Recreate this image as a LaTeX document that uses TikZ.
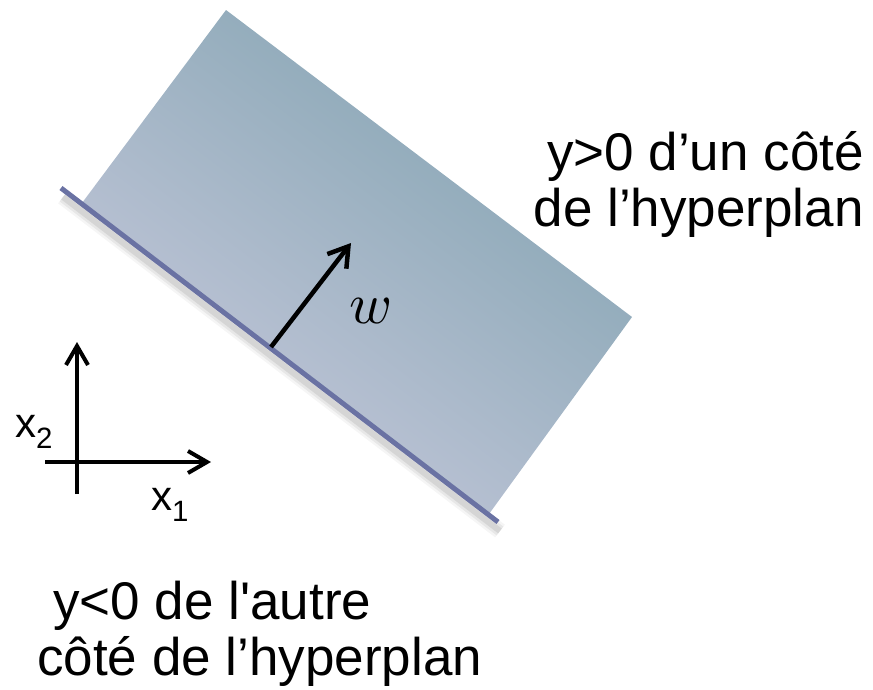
\documentclass[tikz,border=0pt]{standalone}
\usepackage{fontspec}
\newfontfamily\labelfont{Liberation Sans}
\usetikzlibrary{arrows.meta}
\definecolor{planLight}{HTML}{C7C9DC}
\definecolor{planDark}{HTML}{82A3B1}
\definecolor{hypLine}{HTML}{6A72A3}

\begin{document}
\begin{tikzpicture}[
    x=1pt, y=-1pt,
    bigtext/.style={font=\labelfont\fontsize{53}{56}\selectfont, inner sep=0pt},
    axlabel/.style={font=\labelfont\fontsize{42}{42}\selectfont, inner sep=0pt},
    vec/.style={line width=4.5pt, -{Straight Barb[length=19pt, width=24pt]}},
    axis/.style={line width=4pt, -{Straight Barb[length=19pt, width=22pt]}},
]
\useasboundingbox (0,0) rectangle (873,689);

% hyperplan : ombre
\coordinate (hypA) at (61,188);
\coordinate (hypB) at (498,522);
\foreach \lw/\op in {16/0.04, 11/0.06, 6/0.08}
    \draw[line width=\lw pt, black, opacity=\op]
        ([shift={(2,9)}]hypA) -- ([shift={(2,9)}]hypB);

% demi-espace y>0
\coordinate (pL) at (82,203);
\coordinate (pT) at (226,10);
\coordinate (pR) at (632,317);
\coordinate (pB) at (489,514);
\shade[top color=planDark, bottom color=planLight, shading angle=-37]
    (pL) -- (pT) -- (pR) -- (pB) -- cycle;

% hyperplan
\draw[line width=5pt, hypLine] (hypA) -- (hypB);

% vecteur w
\coordinate (wfoot) at (271,347);
\coordinate (whead) at (351,243);
\draw[vec] (wfoot) -- (whead);
\node[inner sep=0pt, anchor=base west] (lw) at (349,323) {\scalebox{5.8}{$w$}};

% axes
\coordinate (xa) at (45,462);
\coordinate (xb) at (211,462);
\coordinate (ya) at (77,494);
\coordinate (yb) at (77,342);
\draw[axis] (xa) -- (xb);
\draw[axis] (ya) -- (yb);
\node[axlabel, anchor=base west] (lx2) at (15,437) {x\textsubscript{2}};
\node[axlabel, anchor=base west] (lx1) at (151,510) {x\textsubscript{1}};

% textes
\node[bigtext, align=right, anchor=base east] (pos) at (864,226)
    {y>0 d’un côté\\de l’hyperplan};
\node[bigtext, align=left, anchor=base west] (neg) at (37,675)
    {\hspace*{16pt}y<0 de l'autre\\côté de l’hyperplan};

\end{tikzpicture}
\end{document}
